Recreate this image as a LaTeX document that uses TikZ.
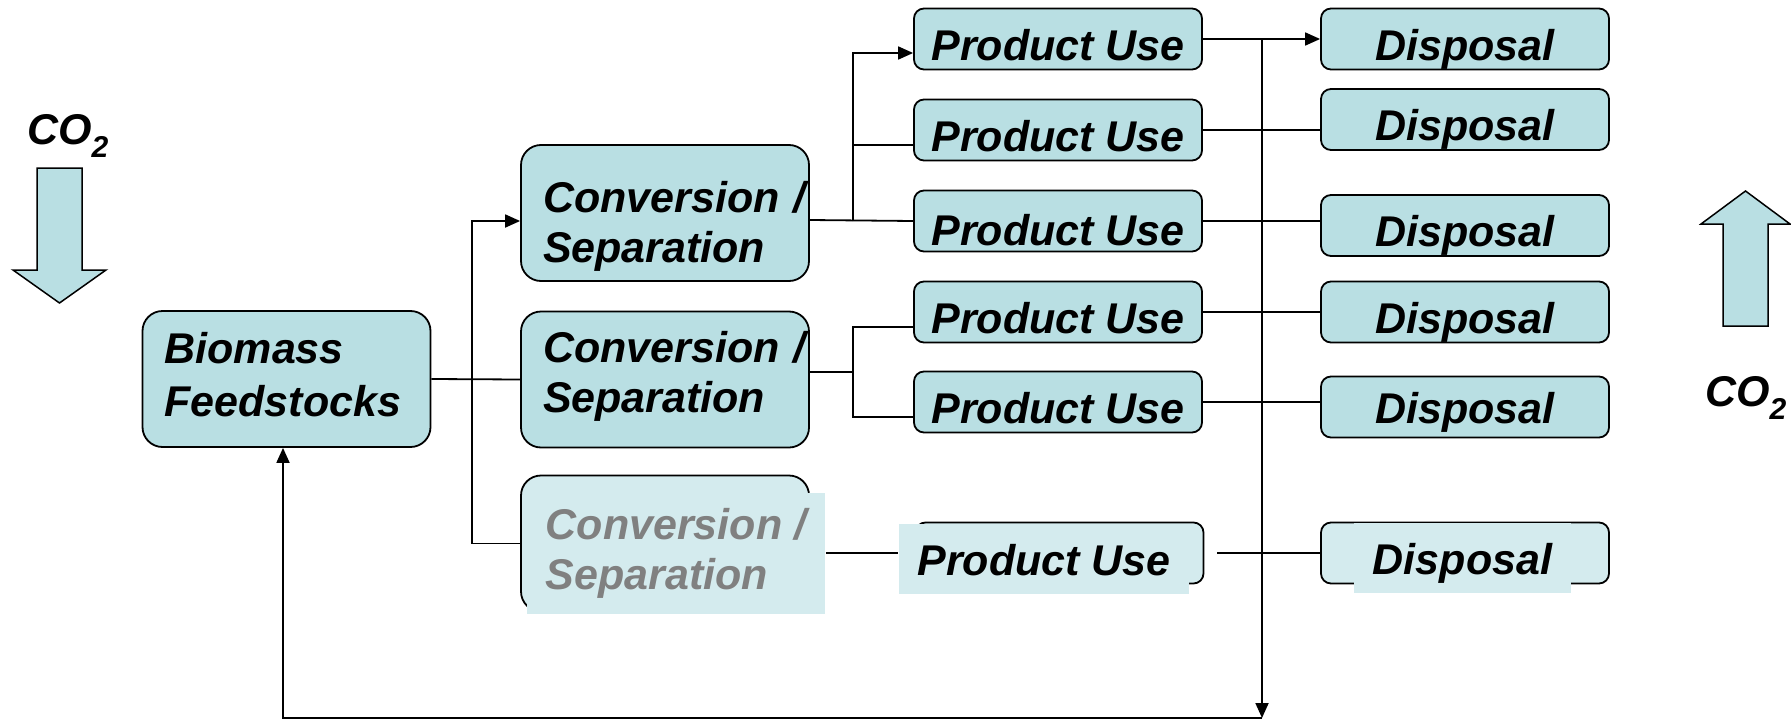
\documentclass[tikz,border=0pt]{standalone}
\usepackage{fontspec}
\setmainfont{Liberation Sans}
\usetikzlibrary{arrows.meta, positioning}
\definecolor{boxblue}{RGB}{185,223,227}
\definecolor{paleblue}{RGB}{212,235,238}
\definecolor{fadegray}{RGB}{128,128,128}

\begin{document}
\begin{tikzpicture}[
                x = 1pt, y = -1pt, % pixel grid, y grows downwards
                > = {Triangle[length=15pt, width=13pt]}, % arrow head style
                line width = 1.8pt, % line style
                font = \fontsize{43}{50}\selectfont\bfseries\itshape
                ]
                \tikzstyle{bigbox}=[
                    draw = black,
                    fill = boxblue,
                    rounded corners = 20pt,
                    minimum width = 288pt,
                    minimum height = 136pt,
                    inner xsep = 22pt,
                    inner ysep = 0pt,
                    text width = 244pt,
                    align = left,
                ]
                \tikzstyle{smallbox}=[
                    draw = black,
                    fill = boxblue,
                    rounded corners = 10pt,
                    minimum width = 288pt,
                    minimum height = 61pt,
                    inner sep = 0pt,
                    text height = 42pt,
                    text depth = 0pt,
                ]
                \tikzstyle{faded}=[
                    fill = paleblue,
                    inner sep = 0pt,
                    align = left,
                ]
                \tikzstyle{bigarrow}=[
                    draw = black,
                    fill = boxblue,
                    line width = 1.5pt,
                ]

                \useasboundingbox (0,0) rectangle (1791,720);

                % CO2 in and out
                \draw[bigarrow] (37,168) -- (82,168) -- (82,270) -- (106,270)
                    -- (59.5,303) -- (13,270) -- (37,270) -- cycle;
                \node (co2in) at (68,136) {CO\textsubscript{2}};
                \draw[bigarrow] (1723,326) -- (1768,326) -- (1768,224) -- (1790,224)
                    -- (1745.5,191) -- (1701,224) -- (1723,224) -- cycle;
                \node (co2out) at (1746,398) {CO\textsubscript{2}};

                % feedstock and conversion
                \node[bigbox] (bf) at (286.5,379)
                    {Biomass\\[3pt]Feedstocks\rule[-10pt]{0pt}{10pt}};
                \node[bigbox] (cs1) at (665,213)
                    {\rule{0pt}{57pt}Conversion~/\\Separation};
                \node[bigbox] (cs2) at (665,379.5)
                    {Conversion~/\\Separation\rule[-16pt]{0pt}{16pt}};
                \node[bigbox, fill = paleblue] (cs3) at (665,543.5) {};
                \node[faded, minimum width = 298pt, minimum height = 121pt,
                    text = fadegray] (cs3t) at (676,553) {Conversion /\\Separation};

                % products
                \node[smallbox] (pu1) at (1058,39) {Product Use};
                \node[smallbox] (pu2) at (1058,130) {Product Use};
                \node[smallbox, text height = 48pt] (pu3) at (1058,221) {Product Use};
                \node[smallbox] (pu4) at (1058,312) {Product Use};
                \node[smallbox] (pu5) at (1058,402) {Product Use};
                \node[smallbox, fill = paleblue] (pu6) at (1059.5,553) {};
                \node[faded, minimum width = 290pt, minimum height = 70pt,
                    text height = 33pt, text depth = 0pt]
                    (pu6t) at (1044,559) {Product Use};

                % disposal
                \node[smallbox] (dp1) at (1465,39) {Disposal};
                \node[smallbox] (dp2) at (1465,119.5) {Disposal};
                \node[smallbox] (dp3) at (1465,225.5) {Disposal};
                \node[smallbox] (dp4) at (1465,312) {Disposal};
                \node[smallbox, text height = 32pt] (dp5) at (1465,407) {Disposal};
                \node[smallbox, fill = paleblue] (dp6) at (1465,553) {};
                \node[faded, minimum width = 217pt, minimum height = 70pt,
                    text height = 32pt, text depth = 0pt]
                    (dp6t) at (1462.5,558) {Disposal};

                \coordinate (j1) at (472,379);
                \coordinate (j2) at (853,221);
                \coordinate (j3) at (853,372);
                \coordinate (j4) at (1262,39);
                \coordinate (j5) at (1262,718);

                % feedstock to conversion
                \draw (bf.east) -- (cs2.west);
                \draw[->] (cs3.west) -| (j1) |- ([yshift=-8pt]cs1.west);

                % conversion to products
                \draw ([yshift=-7pt]cs1.east) -- (pu3.west);
                \draw[->] (j2) |- ([yshift=-14pt]pu1.west);
                \draw (j2) |- ([yshift=-15pt]pu2.west);
                \draw ([yshift=7.5pt]cs2.east) -- (j3);
                \draw ([yshift=-15pt]pu4.west) -| (j3) |- ([yshift=-15pt]pu5.west);
                \draw (cs3t.east) -- (cs3t.east -| pu6t.west);

                % products to disposal
                \draw[->] (pu1.east) -- (dp1.west);
                \draw (pu2.east) -- (pu2.east -| dp2.west);
                \draw (pu3.east) -- (pu3.east -| dp3.west);
                \draw (pu4.east) -- (dp4.west);
                \draw (pu5.east) -- (pu5.east -| dp5.west);
                \draw ([xshift=13pt]pu6.east) -- (dp6.west);

                % back to the feedstock
                \draw[->] (j4) -- (j5);
                \draw[->] (j5) -| ([xshift=-3.5pt]bf.south);
            \end{tikzpicture}
\end{document}
